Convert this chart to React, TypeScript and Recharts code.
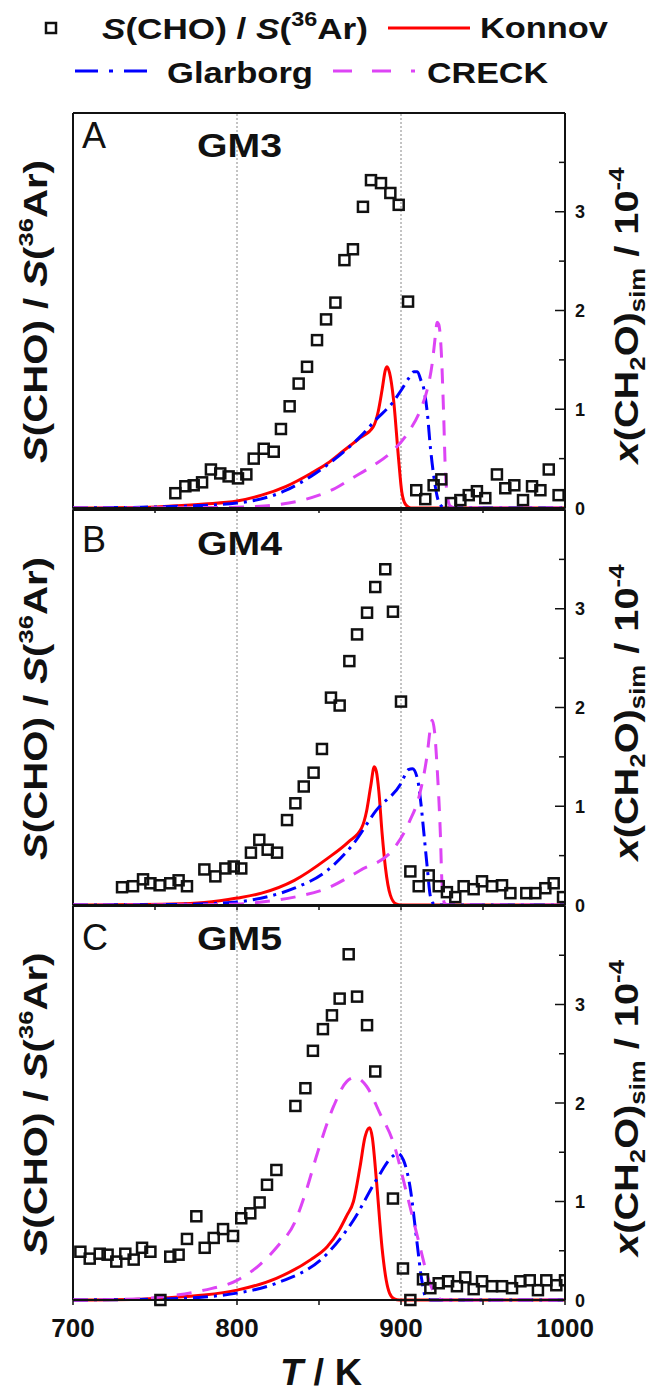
import React from 'react'
import {
  ComposedChart,
  Line,
  Scatter,
  XAxis,
  YAxis,
  ReferenceLine,
} from 'recharts'

const FONT = "'Liberation Sans', Arial, Helvetica, sans-serif"

// temperature axis
const xTicks = [700, 750, 800, 850, 900, 950, 1000]
const yTicks = [0, 0.5, 1, 1.5, 2, 2.5, 3, 3.5]
const gridLinesT = [800, 900]

// GM3: [T / K, value]
const gm3Exp = [
  [762.4, 0.15], [768.5, 0.22], [773.6, 0.23], [778.7, 0.26], [784.1, 0.39], [789.8, 0.35],
  [794.9, 0.32], [800.6, 0.3], [805.7, 0.34], [810.2, 0.5], [816.3, 0.6], [822.4, 0.57],
  [826.8, 0.8], [832.1, 1.03], [837.6, 1.26], [842.7, 1.43], [848.8, 1.7], [854.3, 1.91],
  [860.0, 2.08], [865.5, 2.51], [870.7, 2.62], [876.8, 3.05], [881.7, 3.32], [887.8, 3.29],
  [893.5, 3.19], [898.6, 3.07], [904.3, 2.09], [909.3, 0.18], [914.8, 0.09], [919.9, 0.23],
  [924.6, 0.29], [930.5, 0.05], [936.2, 0.08], [941.3, 0.13], [946.3, 0.17], [951.4, 0.1],
  [958.5, 0.34], [963.6, 0.2], [969.1, 0.23], [974.4, 0.08], [979.9, 0.22], [985.0, 0.18],
  [990.1, 0.39], [996.1, 0.13],
]
const gm3Konnov = [
  [700, 0], [740, 0.005], [760, 0.02], [780, 0.04], [800, 0.07], [815, 0.13], [830, 0.22],
  [845, 0.35], [855, 0.45], [865, 0.58], [875, 0.71], [883, 0.82], [886, 0.97], [888.5, 1.2],
  [890.5, 1.4], [891.5, 1.43], [893, 1.37], [895.5, 1.09], [898.5, 0.5], [900.5, 0.16],
  [903, 0.03], [906, 0], [1000, 0],
]
const gm3Glarborg = [
  [700, 0], [760, 0.015], [800, 0.05], [830, 0.18], [845, 0.32], [860, 0.5], [875, 0.72],
  [885, 0.9], [895, 1.07], [900, 1.19], [905, 1.32], [908, 1.38], [910, 1.38], [912, 1.3],
  [914, 1.2], [916, 0.97], [918, 0.6], [920, 0.32], [922, 0.12], [924, 0.03], [927, 0], [1000, 0],
]
const gm3Creck = [
  [700, 0], [790, 0.005], [810, 0.015], [825, 0.035], [840, 0.08], [850, 0.13], [860, 0.2],
  [870, 0.3], [882, 0.42], [893, 0.55], [905, 0.78], [912, 1.0], [916, 1.2], [919, 1.46],
  [921, 1.75], [922, 1.88], [923, 1.86], [924.5, 1.6], [926, 0.95], [927, 0.4], [928.5, 0.1],
  [930, 0.02], [933, 0], [1000, 0],
]

// GM4
const gm4Exp = [
  [729.9, 0.18], [736.6, 0.19], [742.7, 0.26], [747.2, 0.22], [752.8, 0.2], [759.3, 0.22],
  [764.4, 0.25], [769.5, 0.19], [780.1, 0.36], [786.8, 0.29], [792.9, 0.37], [798.0, 0.39],
  [802.6, 0.37], [808.5, 0.53], [813.6, 0.66], [818.7, 0.56], [824.4, 0.53], [830.5, 0.86],
  [835.6, 1.03], [840.7, 1.2], [846.7, 1.34], [851.8, 1.58], [857.3, 2.1], [862.6, 2.02],
  [868.5, 2.47], [873.2, 2.74], [879.3, 2.96], [884.3, 3.22], [890.4, 3.4], [895.1, 2.97],
  [900.0, 2.06], [905.7, 0.34], [910.8, 0.19], [916.9, 0.3], [923.0, 0.19], [928.0, 0.13],
  [933.1, 0.08], [938.2, 0.19], [944.3, 0.16], [949.4, 0.24], [955.5, 0.19], [961.6, 0.2],
  [966.7, 0.12], [976.4, 0.12], [981.9, 0.12], [988.0, 0.17], [993.1, 0.22], [998.8, 0.08],
]
const gm4Konnov = [
  [700, 0], [760, 0.01], [780, 0.025], [800, 0.07], [815, 0.12], [835, 0.25], [855, 0.47],
  [868, 0.64], [876, 0.78], [879, 0.95], [881.5, 1.2], [883.7, 1.4], [885, 1.35], [886.5, 1.15],
  [888.5, 0.72], [890.5, 0.38], [893.5, 0.1], [897, 0.01], [900, 0], [1000, 0],
]
const gm4Glarborg = [
  [700, 0], [760, 0.005], [780, 0.012], [800, 0.03], [820, 0.09], [835, 0.17], [855, 0.35],
  [871, 0.62], [885, 0.96], [900, 1.23], [904.5, 1.37], [907, 1.38], [910, 1.28], [912, 1.05],
  [914, 0.72], [916, 0.38], [918, 0.08], [920, 0.01], [922, 0], [1000, 0],
]
const gm4Creck = [
  [700, 0], [780, 0.003], [800, 0.01], [815, 0.03], [835, 0.08], [855, 0.17], [875, 0.35],
  [895, 0.56], [905, 0.84], [911.5, 1.13], [916, 1.53], [918, 1.8], [919, 1.87], [920.5, 1.75],
  [922, 1.4], [924, 0.72], [925, 0.22], [926.5, 0.02], [929, 0], [1000, 0],
]

// GM5
const gm5Exp = [
  [704.5, 0.49], [710.2, 0.42], [716.3, 0.47], [721.1, 0.46], [726.4, 0.39], [731.9, 0.47],
  [737.0, 0.41], [742.1, 0.53], [747.2, 0.49], [753.3, 0.0], [759.3, 0.44], [764.4, 0.46],
  [769.5, 0.62], [775.2, 0.85], [780.3, 0.53], [785.8, 0.63], [791.5, 0.72], [797.6, 0.65],
  [802.6, 0.83], [808.1, 0.88], [813.8, 0.99], [818.3, 1.17], [824.0, 1.32], [835.6, 1.97],
  [841.7, 2.15], [846.3, 2.53], [852.4, 2.75], [857.9, 2.89], [862.6, 3.06], [868.1, 3.51],
  [873.2, 3.08], [879.3, 2.79], [884.3, 2.32], [895.1, 1.03], [901.2, 0.32], [905.7, 0.0],
  [913.4, 0.21], [917.9, 0.12], [923.0, 0.17], [928.7, 0.19], [934.1, 0.14], [939.2, 0.23],
  [944.3, 0.11], [949.4, 0.19], [955.5, 0.14], [961.6, 0.14], [967.7, 0.12], [972.8, 0.19],
  [978.5, 0.2], [983.5, 0.1], [988.6, 0.2], [994.7, 0.15], [1000.0, 0.2],
]
const gm5Konnov = [
  [700, 0], [740, 0.008], [753, 0.02], [780, 0.05], [800, 0.1], [824, 0.22], [845, 0.41],
  [855, 0.54], [862, 0.7], [867, 0.86], [871, 1.0], [875, 1.35], [878, 1.65], [880, 1.74],
  [881, 1.75], [882.5, 1.65], [885, 1.22], [888.5, 0.52], [891, 0.2], [893, 0.07], [896, 0.01],
  [899, 0], [1000, 0],
]
const gm5Glarborg = [
  [700, 0], [753, 0.01], [780, 0.03], [800, 0.07], [824, 0.17], [855, 0.47], [871, 0.81],
  [885, 1.22], [895, 1.46], [898, 1.49], [901.5, 1.42], [905.5, 1.15], [909.5, 0.62],
  [912.5, 0.22], [915, 0.03], [918, 0], [1000, 0],
]
const gm5Creck = [
  [700, 0], [740, 0.01], [753, 0.03], [780, 0.1], [800, 0.2], [814, 0.36], [825, 0.55],
  [835, 0.78], [842, 1.1], [849, 1.49], [859, 1.97], [867, 2.22], [872, 2.26], [879, 2.17],
  [887, 1.9], [895.5, 1.59], [903.5, 1.08], [911, 0.58], [917, 0.2], [922, 0.03], [926, 0],
  [1000, 0],
]

const toPts = (arr: number[][]) => arr.map(([T, v]) => ({ T, v }))

const panels = [
  { top: 113, h: 395, letter: 'A', name: 'GM3', letterY: 148, nameY: 157, exp: gm3Exp, konnov: gm3Konnov, glarborg: gm3Glarborg, creck: gm3Creck },
  { top: 510, h: 395, letter: 'B', name: 'GM4', letterY: 552, nameY: 555, exp: gm4Exp, konnov: gm4Konnov, glarborg: gm4Glarborg, creck: gm4Creck },
  { top: 906, h: 394, letter: 'C', name: 'GM5', letterY: 950, nameY: 950, exp: gm5Exp, konnov: gm5Konnov, glarborg: gm5Glarborg, creck: gm5Creck },
]

const RED = '#ff0000'
const BLUE = '#0000ff'
const MAGENTA = '#dd44f5'
const INK = '#111'

const Square = (props: any) => {
  const { cx, cy } = props
  if (cx == null || cy == null) return <g />
  return <rect x={cx - 5} y={cy - 5} width={10} height={10} fill="none" stroke={INK} strokeWidth={2.5} />
}

const RightTick = (props: any) => {
  const { x, y, payload } = props
  const major = Number.isInteger(payload.value)
  return (
    <g>
      <line x1={x - (major ? 10 : 6)} x2={x} y1={y} y2={y} stroke={INK} strokeWidth={1.5} />
      {major && (
        <text x={x + 10} y={y + 6.5} fontSize={18} fontWeight="bold" fontFamily={FONT} fill={INK}>
          {payload.value}
        </text>
      )}
    </g>
  )
}

const BottomTick = (props: any) => {
  const { x, y, payload } = props
  if (payload.value % 100 !== 0) return <g />
  return (
    <text x={x} y={y + 32} textAnchor="middle" fontSize={26} fontWeight="bold" fontFamily={FONT} fill={INK}>
      {payload.value}
    </text>
  )
}

const EmptyTick = () => <g />

function Panel({ p, last }: { p: (typeof panels)[number]; last: boolean }) {
  const xh = last ? 50 : 10
  const height = 10 + p.h + xh
  return (
    <div style={{ position: 'absolute', left: 0, top: p.top - 10 }}>
      <ComposedChart width={649} height={height} margin={{ top: 10, right: 44, left: 73, bottom: 0 }}>
        <XAxis
          type="number"
          dataKey="T"
          domain={[700, 1000]}
          ticks={xTicks}
          interval={0}
          allowDataOverflow
          height={xh}
          tickSize={5}
          tickMargin={0}
          tickLine={{ stroke: INK, strokeWidth: 1.5 }}
          axisLine={{ stroke: INK, strokeWidth: 2 }}
          tick={last ? BottomTick : EmptyTick}
        />
        <YAxis
          orientation="right"
          type="number"
          domain={[0, 4]}
          ticks={yTicks}
          interval={0}
          width={40}
          tickSize={0}
          tickMargin={0}
          tickLine={false}
          axisLine={{ stroke: INK, strokeWidth: 2 }}
          tick={RightTick}
        />
        {gridLinesT.map(t => (
          <ReferenceLine key={t} x={t} stroke="#888" strokeWidth={1} strokeDasharray="2 2" />
        ))}
        <ReferenceLine x={700} stroke={INK} strokeWidth={2} />
        <ReferenceLine y={4} stroke={INK} strokeWidth={2} />
        <Line data={toPts(p.konnov)} dataKey="v" type="monotone" stroke={RED} strokeWidth={3} dot={false} isAnimationActive={false} />
        <Line data={toPts(p.glarborg)} dataKey="v" type="monotone" stroke={BLUE} strokeWidth={3} strokeDasharray="15 6 3 6" dot={false} isAnimationActive={false} />
        <Line data={toPts(p.creck)} dataKey="v" type="monotone" stroke={MAGENTA} strokeWidth={3} strokeDasharray="15 11" dot={false} isAnimationActive={false} />
        <Scatter data={toPts(p.exp)} dataKey="v" shape={Square} isAnimationActive={false} />
      </ComposedChart>
    </div>
  )
}

function Overlay() {
  const t = { fontFamily: FONT, fill: INK }
  return (
    <svg width={649} height={1394} style={{ position: 'absolute', left: 0, top: 0, pointerEvents: 'none' }}>
      {/* legend */}
      <rect x={46} y={23} width={10} height={10} fill="none" stroke={INK} strokeWidth={2.5} />
      <text x={102} y={39} fontSize={30} fontWeight="bold" textLength={266} lengthAdjust="spacingAndGlyphs" {...t}>
        <tspan fontStyle="italic">S</tspan>(CHO) / <tspan fontStyle="italic">S</tspan>(
        <tspan fontSize={20} dy={-13}>36</tspan>
        <tspan dy={13}>Ar)</tspan>
      </text>
      <line x1={388} x2={470} y1={28} y2={28} stroke={RED} strokeWidth={3} />
      <text x={480} y={38} fontSize={30} fontWeight="bold" textLength={128} lengthAdjust="spacingAndGlyphs" {...t}>Konnov</text>
      <line x1={75} x2={147} y1={71} y2={71} stroke={BLUE} strokeWidth={3} strokeDasharray="23 11 4 11" />
      <text x={167} y={83} fontSize={30} fontWeight="bold" textLength={146} lengthAdjust="spacingAndGlyphs" {...t}>Glarborg</text>
      <line x1={333} x2={415} y1={71} y2={71} stroke={MAGENTA} strokeWidth={3} strokeDasharray="19 20" />
      <text x={427} y={83} fontSize={30} fontWeight="bold" textLength={121} lengthAdjust="spacingAndGlyphs" {...t}>CRECK</text>

      {panels.map(p => {
        const cy = p.top + p.h / 2
        return (
          <g key={p.name}>
            <text x={82} y={p.letterY} fontSize={36} {...t}>{p.letter}</text>
            <text x={197} y={p.nameY} fontSize={33} fontWeight="bold" textLength={85} lengthAdjust="spacingAndGlyphs" {...t}>{p.name}</text>
            <text transform={`translate(47, ${cy + 1}) rotate(-90)`} textAnchor="middle" fontSize={33} fontWeight="bold" textLength={303} lengthAdjust="spacingAndGlyphs" {...t}>
              <tspan fontStyle="italic">S</tspan>(CHO) / <tspan fontStyle="italic">S</tspan>(
              <tspan fontSize={21} dy={-14}>36</tspan>
              <tspan dy={14}>Ar)</tspan>
            </text>
            <text transform={`translate(638, ${cy + 5}) rotate(-90)`} textAnchor="middle" fontSize={34} fontWeight="bold" textLength={296} lengthAdjust="spacingAndGlyphs" {...t}>
              <tspan fontStyle="italic">x</tspan>(CH
              <tspan fontSize={22} dy={7}>2</tspan>
              <tspan dy={-7}>O)</tspan>
              <tspan fontSize={22} dy={7}>sim</tspan>
              <tspan dy={-7}> / 10</tspan>
              <tspan fontSize={22} dy={-14}>-4</tspan>
            </text>
          </g>
        )
      })}

      <text x={321} y={1385} textAnchor="middle" fontSize={37} fontWeight="bold" textLength={82} lengthAdjust="spacingAndGlyphs" {...t}>
        <tspan fontStyle="italic">T</tspan> / K
      </text>
    </svg>
  )
}

export default function App() {
  return (
    <div style={{ position: 'absolute', left: 0, top: 0, width: 649, height: 1394, background: '#fff', fontFamily: FONT }}>
      {panels.map((p, i) => (
        <Panel key={p.name} p={p} last={i === panels.length - 1} />
      ))}
      <Overlay />
    </div>
  )
}
